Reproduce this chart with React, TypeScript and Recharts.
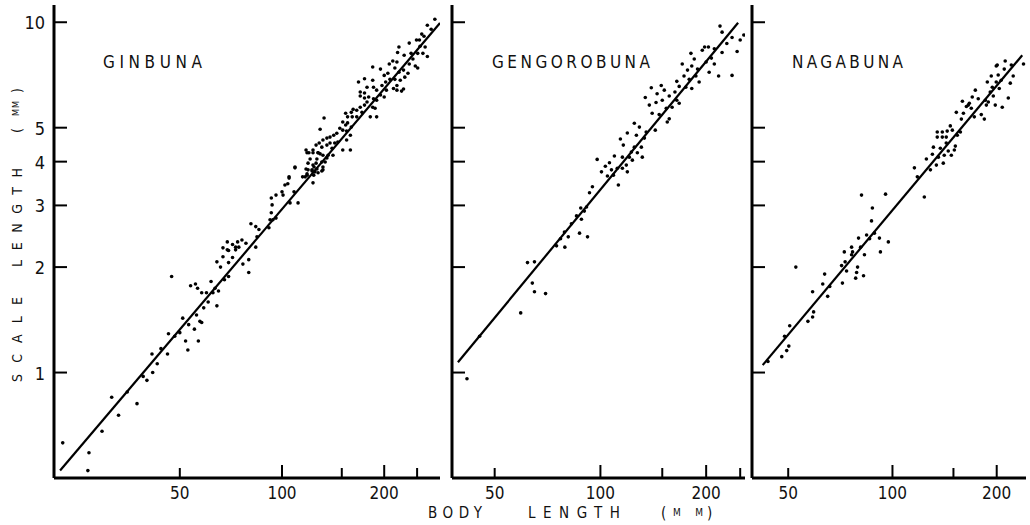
import React from "react";
import { ScatterChart, Scatter, XAxis, YAxis } from "recharts";

// log-log scatter of scale length vs body length, three species

const yTicks = [1, 2, 3, 4, 5, 10];
const yDomain: [number, number] = [0.5, 11.2];
const ginbunaXTicks = [50, 100, 150, 200, 250];
const gengoroXTicks = [50, 100, 150, 200, 250];
const nagaXTicks = [50, 100, 150, 200];
const labeledX = [50, 100, 200];

// [body length mm, scale length mm]
const ginbunaPts: [number, number][] = [
  [22.6, 0.63], [27.0, 0.59], [26.8, 0.525], [29.5, 0.68], [31.5, 0.85], [33.0, 0.755],
  [35.0, 0.88], [37.4, 0.815], [39.0, 0.975], [40.0, 0.95], [41.4, 1.13], [41.6, 1.0],
  [42.9, 1.06], [44.0, 1.17], [46.0, 1.13], [46.3, 1.29], [47.3, 1.88], [48.3, 1.27],
  [50, 1.3], [51, 1.43], [52, 1.23], [52.8, 1.16], [53.1, 1.37], [53.8, 1.77],
  [55.2, 1.33], [55.6, 1.79], [56, 1.46], [56.4, 1.74], [56.7, 1.23], [57.3, 1.4],
  [58, 1.69], [58, 1.39], [58.8, 1.53], [59.9, 1.69], [60.6, 1.59], [61.8, 1.82],
  [62.6, 1.69], [63.5, 1.74], [64.3, 1.55], [64.3, 2.07], [65, 1.71], [65.9, 2.0],
  [67, 2.14], [67.7, 1.84], [69, 2.24], [69.6, 2.06], [69.6, 1.88], [71.5, 2.13],
  [73, 2.24], [76.7, 2.04], [79.8, 2.1], [79.8, 1.93],
  [67, 2.27], [69, 2.36], [69.6, 2.23], [71.5, 2.32], [73, 2.28], [74, 2.36],
  [74.6, 2.28], [76.2, 2.39], [78.3, 2.34], [81, 2.66], [83.7, 2.61], [85.5, 2.56],
  [83.7, 2.28], [84.4, 2.44], [91.5, 2.59], [92.2, 2.73], [94, 2.73], [96, 2.76],
  [93, 2.86], [93, 3.15], [93.5, 3.01], [96, 3.21], [100, 3.28], [100.7, 3.21],
  [102, 3.43], [104, 3.46], [104.9, 3.59], [105.6, 3.05], [108.5, 3.28], [109.2, 3.84],
  [111.5, 3.05], [117, 3.62], [119.3, 3.79], [118.5, 3.69], [118.5, 4.24], [123.4, 3.48],
  [122.6, 3.76], [124.3, 3.86], [126, 3.96], [127.7, 4.24], [131, 3.76], [134, 3.99],
  [136.7, 4.17], [141.3, 4.17], [129.5, 4.21], [132, 3.79], [125, 3.74], [127.7, 3.72],
  [282, 10.2], [268, 9.8], [275, 9.55], [258, 9.25], [262, 9.12], [249, 8.9],
  [254, 8.9], [237, 8.72], [255, 8.54], [264, 8.5], [260, 8.15], [268, 7.98],
  [221, 8.5], [219, 8.2], [229, 8.05], [240, 8.15], [251, 8.15], [243, 7.85],
  [237, 7.6], [247, 7.5], [251, 7.4], [207, 7.6], [212, 7.75], [218, 7.7],
  [215, 7.4], [221, 7.2], [228, 7.3], [235, 7.15], [230, 6.97], [185, 7.45],
  [195, 7.35], [200, 7.05], [205, 7.15], [208, 6.87], [215, 6.87], [223, 6.83],
  [218, 6.6], [213, 6.47], [218, 6.4], [225, 6.36], [228, 6.45], [202, 6.75],
  [197, 6.6], [203, 6.4], [168, 6.75], [175, 6.9], [185, 6.83], [178, 6.52],
  [186, 6.52], [190, 6.4], [195, 6.2], [200, 6.12], [190, 5.99], [186, 6.05],
  [180, 6.12], [175, 6.28], [170, 6.32], [170, 6.16], [175, 6.08], [178, 5.92],
  [185, 5.72], [188, 5.68], [182, 5.37], [190, 5.37], [175, 5.8], [170, 5.72],
  [166, 5.61], [162, 5.64], [160, 5.53], [156, 5.37], [161, 5.37], [166, 5.37],
  [172, 5.53], [154, 5.5], [133, 5.33], [129.5, 4.95], [151, 5.19], [154, 5.09],
  [156, 5.16], [148, 4.98], [151, 4.92], [155, 4.89], [160, 5.02], [159, 4.76],
  [145, 4.82], [142, 4.76], [138.5, 4.7], [135.6, 4.67], [132, 4.61], [128.7, 4.52],
  [126, 4.46], [123.4, 4.32], [120, 4.24], [131, 4.4], [135.6, 4.46], [138.5, 4.52],
  [140.4, 4.37], [143, 4.52], [146, 4.55], [155, 4.61], [151, 4.32], [159, 4.32],
  [117.7, 4.32], [123.4, 4.24], [127.7, 4.24], [132, 4.17], [126.7, 4.07], [121, 4.07],
  [131, 3.99], [135.6, 4.1], [119.3, 3.96], [123.4, 3.91], [122.6, 3.79], [117.7, 3.81],
  [132, 3.86], [126.7, 3.81], [109.2, 3.86], [104.9, 3.62], [115, 3.62], [124, 3.66],
  [118.5, 3.66],
];

const gengoroPts: [number, number][] = [
  [41.7, 0.96], [45.3, 1.27], [59.3, 1.48], [62, 2.06], [64.9, 2.07], [64, 1.8],
  [64.9, 1.7], [69.8, 1.68], [75, 2.3], [77, 2.41], [79.2, 2.28], [81, 2.44],
  [79, 2.52], [82.7, 2.66], [85.5, 2.8], [87.2, 2.5], [87.9, 2.95], [88.3, 2.74],
  [90, 2.89], [91.9, 2.44], [91.3, 2.97], [93.1, 3.26], [94.9, 3.39], [97.9, 4.06],
  [100.7, 3.74], [103.3, 3.88], [104.7, 3.64], [106.1, 3.97], [107.5, 3.79], [109.6, 4.15],
  [108.9, 3.66], [111.7, 3.83], [112.5, 3.43], [114, 4.64], [115.5, 4.12], [115.5, 3.83],
  [116.2, 4.46], [118.5, 3.91], [119.3, 3.74], [119.3, 4.83], [120.9, 4.12], [122.5, 4.26],
  [123.3, 4.04], [124.9, 5.15], [124.9, 4.4], [126.6, 4.76], [127.4, 4.24], [129.1, 5.02],
  [130.8, 4.4], [131.6, 4.12], [133.4, 4.67], [135, 4.86], [134.2, 6.1], [137.8, 5.8],
  [139.6, 6.5], [140.4, 5.5], [143.3, 4.92], [144, 5.9], [145, 6.25], [147, 5.45],
  [149, 6.6], [150, 5.99], [152, 6.4], [154, 5.68], [155, 5.19], [157, 6.16],
  [157, 5.3], [160, 5.72], [163, 6.32], [165, 5.99], [165, 6.78], [167.6, 6.56],
  [167.6, 5.87], [171, 7.6], [173, 7.02], [175, 6.52], [177, 7.3], [179, 6.87],
  [181, 8.15], [182, 7.5], [182, 6.47], [185, 7.85], [187, 7.02], [189, 7.35],
  [191, 6.75], [195, 8.32], [198, 8.5], [200, 7.7], [203, 8.5], [204, 7.2],
  [207, 7.9], [211, 7.6], [211, 8.4], [217, 7.02], [219, 9.75], [222, 9.37],
  [222, 8.2], [229, 8.7], [237, 7.05], [237, 9.05], [245, 8.25], [250, 8.9],
  [256, 9.2],
];

const nagaPts: [number, number][] = [
  [43.7, 1.075], [47.9, 1.11], [49.5, 1.155], [50.2, 1.19], [48.8, 1.27], [50.5, 1.36],
  [52.6, 2.0], [57, 1.4], [58.8, 1.44], [59.2, 1.49], [58.8, 1.7], [62.9, 1.79],
  [63.7, 1.91], [65, 1.65], [65.9, 1.76], [71.3, 2.02], [71.7, 1.8], [72.6, 2.21],
  [73, 2.07], [73.7, 1.95], [76.2, 2.28], [76.7, 2.21], [76.2, 2.17], [78.3, 1.86],
  [78.8, 1.93], [79.3, 2.0], [79.8, 2.42], [80.9, 2.28], [81.4, 3.21], [82.5, 1.89],
  [83, 2.17], [84.2, 2.47], [85.9, 2.41], [87, 2.71], [87.5, 2.95], [88.7, 2.5],
  [91.7, 2.42], [92.3, 2.21], [95.5, 3.23], [97.3, 2.36], [115.7, 3.84], [118, 3.62],
  [123.6, 3.17], [125.3, 4.07], [128.7, 3.79], [130.4, 4.2], [131.3, 4.4], [133.9, 3.91],
  [134.7, 4.86], [134.7, 4.7], [135.7, 4.12], [137.5, 4.37], [139.3, 4.86], [139.3, 4.7],
  [140.2, 3.96], [141.1, 4.17], [143, 4.52], [143, 4.7], [143.9, 4.89], [144.9, 4.29],
  [146.9, 5.06], [147.9, 4.17], [148.9, 4.92], [150.9, 4.32], [151.9, 4.43], [153.9, 4.76],
  [152.9, 5.53], [157.1, 4.86], [158.1, 5.29], [159.2, 5.95], [160.3, 5.5], [163.5, 5.75],
  [165.6, 5.8], [166.7, 5.87], [168.9, 5.68], [170, 6.12], [172.3, 5.37], [173.5, 6.4],
  [176.9, 6.05], [180.5, 5.45], [184.2, 5.29], [185.4, 5.99], [186.7, 5.8], [187.9, 6.75],
  [189.1, 5.92], [191.6, 6.32], [192.9, 7.02], [194.2, 6.52], [195.5, 6.16], [198.1, 5.8],
  [199.4, 7.5], [199.4, 6.75], [200.7, 7.55], [202, 7.07], [203.4, 6.47], [206, 6.83],
  [207.5, 5.72], [210.3, 7.35], [211.6, 7.75], [216, 6.08], [218.9, 6.7], [220.4, 7.55],
  [223.2, 7.02], [239, 7.6],
];

// fitted regression lines (end points)
const ginbunaFit: [number, number][] = [[22.2, 0.525], [292, 9.95]];
const gengoroFit: [number, number][] = [[39.3, 1.07], [246.6, 9.97]];
const nagaFit: [number, number][] = [[42.2, 1.05], [237, 8.05]];

const toXY = (arr: [number, number][]) => arr.map(([x, y]) => ({ x, y }));

const FONT = "'Liberation Sans Narrow', 'DejaVu Sans Condensed', 'DejaVu Sans', sans-serif";

function XTick({ x, y, payload }: any) {
  const v = payload.value;
  const len = v === 100 || v === 200 ? 13 : 10;
  return (
    <g>
      <line x1={x} x2={x} y1={y} y2={y - len} stroke="#000" strokeWidth={2} />
      {labeledX.includes(v) && (
        <text x={x} y={y + 21} textAnchor="middle" fontSize={17} fontFamily={FONT} fill="#111">
          {v}
        </text>
      )}
    </g>
  );
}

function YTick({ x, y, payload, showLabel }: any) {
  return (
    <g>
      <line x1={x} x2={x + 13} y1={y} y2={y} stroke="#000" strokeWidth={2} />
      {showLabel && (
        <text x={x - 9} y={y + 7} textAnchor="end" fontSize={18} fontFamily={FONT} fill="#111">
          {payload.value}
        </text>
      )}
    </g>
  );
}

const dot = (p: any) => <circle cx={p.cx} cy={p.cy} r={1.8} fill="#000" />;
const noDot = () => <g />;

function Panel({ left, width, yAxisWidth, marginRight, xDomain, xTicks, pts, fit, showYLabels }: any) {
  return (
    <div style={{ position: "absolute", left, top: 0 }}>
      <ScatterChart
        width={width}
        height={525}
        margin={{ top: 5, right: marginRight, bottom: 0, left: 0 }}
      >
        <XAxis
          type="number"
          dataKey="x"
          scale="log"
          domain={xDomain}
          allowDataOverflow
          ticks={xTicks}
          interval={0}
          height={47}
          tickSize={0}
          tickMargin={0}
          tickLine={false}
          tick={<XTick />}
          axisLine={{ stroke: "#000", strokeWidth: 3 }}
        />
        <YAxis
          type="number"
          dataKey="y"
          scale="log"
          domain={yDomain}
          allowDataOverflow
          ticks={yTicks}
          interval={0}
          width={yAxisWidth}
          tickSize={0}
          tickMargin={0}
          tickLine={false}
          tick={<YTick showLabel={showYLabels} />}
          axisLine={{ stroke: "#000", strokeWidth: 3 }}
        />
        <Scatter data={toXY(pts)} shape={dot} isAnimationActive={false} />
        <Scatter
          data={toXY(fit)}
          shape={noDot}
          line={{ stroke: "#000", strokeWidth: 2.2 }}
          isAnimationActive={false}
        />
      </ScatterChart>
    </div>
  );
}

export default function App() {
  const t = { fontFamily: FONT, fill: "#111" };
  return (
    <div style={{ position: "absolute", left: 0, top: 0, width: 1030, height: 525, background: "#fff" }}>
      <Panel left={0} width={450} yAxisWidth={54} marginRight={10}
        xDomain={[21.3, 292]} xTicks={ginbunaXTicks} pts={ginbunaPts} fit={ginbunaFit} showYLabels />
      <Panel left={440} width={310} yAxisWidth={12} marginRight={5}
        xDomain={[37.8, 258]} xTicks={gengoroXTicks} pts={gengoroPts} fit={gengoroFit} />
      <Panel left={740} width={290} yAxisWidth={12} marginRight={4}
        xDomain={[39.3, 243]} xTicks={nagaXTicks} pts={nagaPts} fit={nagaFit} />

      <svg width={1030} height={525} style={{ position: "absolute", left: 0, top: 0, pointerEvents: "none" }}>
        {/* species names */}
        <text x={103} y={68} fontSize={17} textLength={99} lengthAdjust="spacing" {...t}>GINBUNA</text>
        <text x={492} y={68} fontSize={17} textLength={158} lengthAdjust="spacing" {...t}>GENGOROBUNA</text>
        <text x={792} y={68} fontSize={17} textLength={111} lengthAdjust="spacing" {...t}>NAGABUNA</text>

        {/* x axis title */}
        <text x={428} y={518} fontSize={15} textLength={54} lengthAdjust="spacing" {...t}>BODY</text>
        <text x={528} y={518} fontSize={15} textLength={92} lengthAdjust="spacing" {...t}>LENGTH</text>
        <text x={661} y={518} fontSize={15} {...t}>(</text>
        <text x={673} y={516} fontSize={10} textLength={30} lengthAdjust="spacing" {...t}>MM</text>
        <text x={707} y={518} fontSize={15} {...t}>)</text>

        {/* y axis title */}
        <text transform="translate(22,382) rotate(-90)" fontSize={14} textLength={85} lengthAdjust="spacing" {...t}>SCALE</text>
        <text transform="translate(22,267) rotate(-90)" fontSize={14} textLength={99} lengthAdjust="spacing" {...t}>LENGTH</text>
        <text transform="translate(22,133) rotate(-90)" fontSize={14} {...t}>(</text>
        <text transform="translate(19,116) rotate(-90)" fontSize={9} textLength={15} lengthAdjust="spacing" {...t}>MM</text>
        <text transform="translate(22,93) rotate(-90)" fontSize={14} {...t}>)</text>
      </svg>
    </div>
  );
}
